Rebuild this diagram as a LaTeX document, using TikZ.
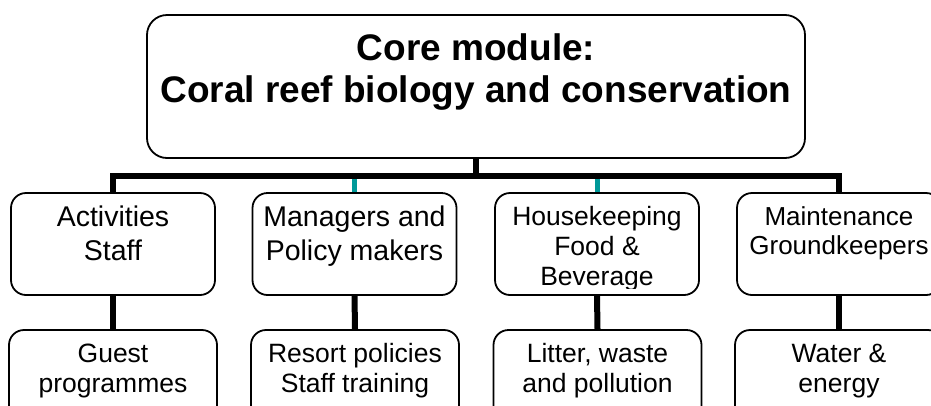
\documentclass[tikz,border=0pt]{standalone}
\usepackage{fontspec}
\setmainfont{Liberation Sans}
\definecolor{tealline}{HTML}{009999}
\begin{document}
\begin{tikzpicture}[x=1pt,y=-1pt,
  box/.style={draw=black, line width=1.8pt, rounded corners=15pt, inner sep=0pt},
  upbox/.style={box, minimum width=204pt, minimum height=102pt},
  lowbox/.style={box, minimum width=208pt, minimum height=102pt},
  txt/.style={inner sep=0pt, align=center},
  conn/.style={line width=6pt, draw=black},
  tconn/.style={line width=5pt, draw=tealline}]
\useasboundingbox (0,0) rectangle (931,405);
\begin{scope}
\clip (0,0) rectangle (931,405);
% top box
\node[box, rounded corners=20pt, minimum width=658pt, minimum height=143pt] (top) at (476,86.5) {};
\node[txt, font=\fontsize{37}{42}\selectfont\bfseries] (toptxt) at (476,72.6)
  {Core module:\strut\\Coral reef biology and conservation\strut};
% upper boxes
\node[upbox] (b1) at (113,244) {};
\node[upbox] (b2) at (354.5,244) {};
\node[upbox] (b3) at (597,244) {};
\node[upbox] (b4) at (839,244) {};
\node[txt, font=\fontsize{28.5}{34}\selectfont] (b1t) at (113,236.2) {Activities\strut\\Staff\strut};
\node[txt, font=\fontsize{28.5}{34}\selectfont] (b2t) at (354.5,236.2) {Managers and\strut\\Policy makers\strut};
\begin{scope}
\clip (495,193) rectangle (699,288);
\node[txt, font=\fontsize{26.5}{30}\selectfont] (b3t) at (597,249) {Housekeeping\strut\\Food \&\strut\\Beverage\strut};
\end{scope}
\node[txt, font=\fontsize{26}{29}\selectfont] (b4t) at (839,233.7) {Maintenance\strut\\Groundkeepers\strut};
% lower boxes
\node[lowbox] (l1) at (113,381) {};
\node[lowbox] (l2) at (355,381) {};
\node[lowbox] (l3) at (597.5,381) {};
\node[lowbox] (l4) at (839,381) {};
\node[txt, font=\fontsize{26.5}{30}\selectfont] (l1t) at (113,371) {Guest\strut\\programmes\strut};
\node[txt, font=\fontsize{26.5}{30}\selectfont] (l2t) at (355,371) {Resort policies\strut\\Staff training\strut};
\node[txt, font=\fontsize{26.5}{30}\selectfont] (l3t) at (597.5,371) {Litter, waste\strut\\and pollution\strut};
\node[txt, font=\fontsize{26.5}{30}\selectfont] (l4t) at (839,371) {Water \&\strut\\energy\strut};
% connectors
\coordinate (bus) at (477,175.5);
\draw[conn] (top.south) -- (top.south |- bus);
\draw[tconn] (b2.north) -- (b2.north |- bus);
\draw[tconn] (b3.north) -- (b3.north |- bus);
\draw[conn] (b1.north) -- (b1.north |- bus) -- (b4.north |- bus) -- (b4.north);
\draw[conn] (b1.south) -- (l1.north);
\draw[conn] (b2.south) -- (l2.north);
\draw[conn] (b3.south) -- (l3.north);
\draw[conn] (b4.south) -- (l4.north);
\end{scope}
\end{tikzpicture}
\end{document}
